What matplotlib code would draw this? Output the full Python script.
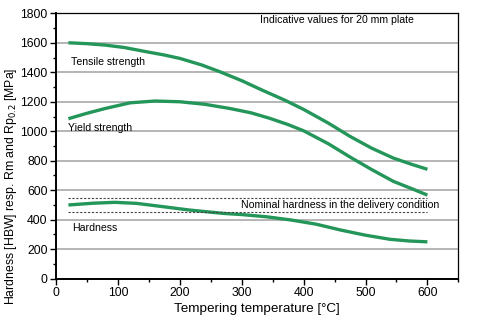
import matplotlib
matplotlib.use("Agg")
import matplotlib.pyplot as plt
from matplotlib.ticker import MultipleLocator

plt.rcParams['font.family'] = ['Liberation Sans', 'DejaVu Sans']

tensile_t = [20, 50, 80, 110, 145, 175, 200, 235, 265, 300, 335, 370, 400, 440, 475, 510, 545, 575, 600]
tensile_v = [1600, 1594, 1584, 1568, 1540, 1517, 1494, 1450, 1403, 1343, 1275, 1210, 1148, 1055, 965, 885, 818, 775, 742]
yield_t = [20, 50, 80, 120, 160, 200, 240, 280, 315, 345, 375, 400, 440, 475, 510, 545, 575, 600]
yield_v = [1085, 1122, 1155, 1193, 1205, 1200, 1183, 1155, 1125, 1088, 1045, 1003, 915, 825, 740, 660, 610, 567]
hard_t = [20, 60, 95, 130, 170, 215, 270, 300, 340, 380, 420, 460, 500, 540, 570, 600]
hard_v = [500, 512, 518, 511, 490, 466, 443, 435, 420, 398, 370, 330, 295, 267, 256, 250]
nominal_band = [450, 550]
nominal_range = [20, 600]

green = '#24965a'

fig = plt.figure(figsize=(4.8, 3.32), dpi=100)
ax = fig.add_axes([0.1167, 0.1605, 0.955 - 0.1167, 0.960 - 0.1605])

ax.set_xlim(0, 650)
ax.set_ylim(0, 1800)
ax.yaxis.set_major_locator(MultipleLocator(200))
ax.yaxis.set_minor_locator(MultipleLocator(100))
ax.xaxis.set_major_locator(MultipleLocator(100))
ax.xaxis.set_minor_locator(MultipleLocator(50))
ax.grid(axis='y', which='major', color='#b0b0b0', linewidth=1.3)
ax.set_axisbelow(True)

for s in ['left', 'bottom']:
    ax.spines[s].set_linewidth(1.4)
for s in ['top', 'right']:
    ax.spines[s].set_linewidth(0.9)
ax.tick_params(which='major', direction='out', length=4, width=1, labelsize=8.8, pad=2)
ax.tick_params(which='minor', direction='out', length=2.5, width=1)

for t, v in [(tensile_t, tensile_v), (yield_t, yield_v), (hard_t, hard_v)]:
    ax.plot(t, v, color=green, lw=2.4, solid_capstyle='butt', solid_joinstyle='round')
for y in nominal_band:
    ax.plot(nominal_range, [y, y], color='#444444', lw=0.8, linestyle=(0, (2, 1.5)))

fs = 7.6
ax.text(24, 1469, 'Tensile strength', fontsize=fs, va='center', ha='left')
ax.text(19, 1022, 'Yield strength', fontsize=fs, va='center', ha='left')
ax.text(26, 344, 'Hardness', fontsize=fs, va='center', ha='left')
ax.text(299, 500, 'Nominal hardness in the delivery condition', fontsize=fs, va='center', ha='left')
ax.text(330, 1752, 'Indicative values for 20 mm plate', fontsize=fs, va='center', ha='left')

ax.set_xlabel('Tempering temperature [°C]', fontsize=9.7, labelpad=3)
fig.text(11 / 480, 0.44, 'Hardness [HBW] resp. Rm and Rp$_{0.2}$ [MPa]', fontsize=8.8,
         rotation=90, ha='center', va='center')

fig.savefig('out.png', dpi=100)
